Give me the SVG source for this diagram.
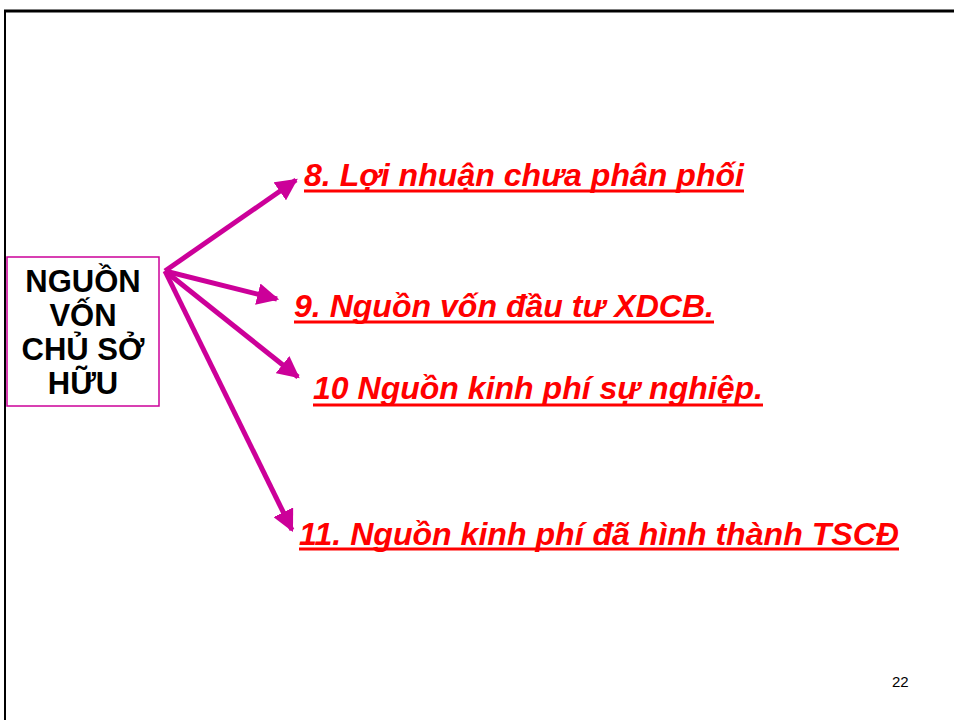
<svg xmlns="http://www.w3.org/2000/svg" width="954" height="720" viewBox="0 0 954 720">
  <defs>
    <marker id="head" viewBox="0 0 10 10" refX="9" refY="5" markerWidth="4.4" markerHeight="4.4" markerUnits="strokeWidth" orient="auto">
      <path d="M0,0 L10,5 L0,10 Z" fill="#CC0099"/>
    </marker>
    <style>
      .frame { stroke: #000; fill: none; }
      .box { fill: #fff; stroke: #CC0099; stroke-width: 1.5; }
      .boxtext { font-family: "Liberation Sans", Arial, sans-serif; font-weight: bold; font-size: 31px; fill: #000; text-anchor: middle; }
      .item { font-family: "Liberation Sans", Arial, sans-serif; font-weight: bold; font-style: italic; font-size: 31px; fill: #FF0000; }
      .uline { stroke: #FF0000; stroke-width: 3; }
      .arrow { stroke: #CC0099; stroke-width: 5; fill: none; marker-end: url(#head); }
      .pageno { font-family: "Liberation Sans", Arial, sans-serif; font-size: 15px; fill: #000; }
    </style>
  </defs>

  <rect width="954" height="720" fill="#fff"/>

  <!-- slide frame -->
  <g id="frame">
    <line class="frame" x1="4" y1="11" x2="954" y2="11" stroke-width="3"/>
    <line class="frame" x1="5" y1="10" x2="5" y2="720" stroke-width="2"/>
  </g>

  <!-- connectors -->
  <g id="connectors">
    <line class="arrow" x1="165" y1="271" x2="296" y2="180"/>
    <line class="arrow" x1="165" y1="271" x2="277" y2="299"/>
    <line class="arrow" x1="165" y1="271" x2="298" y2="377"/>
    <line class="arrow" x1="165" y1="271" x2="292" y2="530"/>
  </g>

  <!-- source node -->
  <g id="node-source">
    <rect class="box" x="7" y="257" width="152" height="149"/>
    <text class="boxtext" x="83" y="292">NGUỒN</text>
    <text class="boxtext" x="83" y="326">VỐN</text>
    <text class="boxtext" x="83" y="360">CHỦ SỞ</text>
    <text class="boxtext" x="83" y="394">HỮU</text>
  </g>

  <g id="node-8">
    <text class="item" x="304" y="186" textLength="440" lengthAdjust="spacingAndGlyphs">8. Lợi nhuận chưa phân phối</text>
    <line class="uline" x1="304" y1="191" x2="744" y2="191"/>
  </g>

  <g id="node-9">
    <text class="item" x="294" y="317" textLength="420" lengthAdjust="spacingAndGlyphs">9. Nguồn vốn đầu tư XDCB.</text>
    <line class="uline" x1="294" y1="322" x2="714" y2="322"/>
  </g>

  <g id="node-10">
    <text class="item" x="313" y="399" textLength="450" lengthAdjust="spacingAndGlyphs">10 Nguồn kinh phí sự nghiệp.</text>
    <line class="uline" x1="313" y1="405" x2="763" y2="405"/>
  </g>

  <g id="node-11">
    <text class="item" x="299" y="545" textLength="600" lengthAdjust="spacingAndGlyphs">11. Nguồn kinh phí đã hình thành TSCĐ</text>
    <line class="uline" x1="299" y1="549" x2="899" y2="549"/>
  </g>

  <text class="pageno" x="892" y="687">22</text>
</svg>
